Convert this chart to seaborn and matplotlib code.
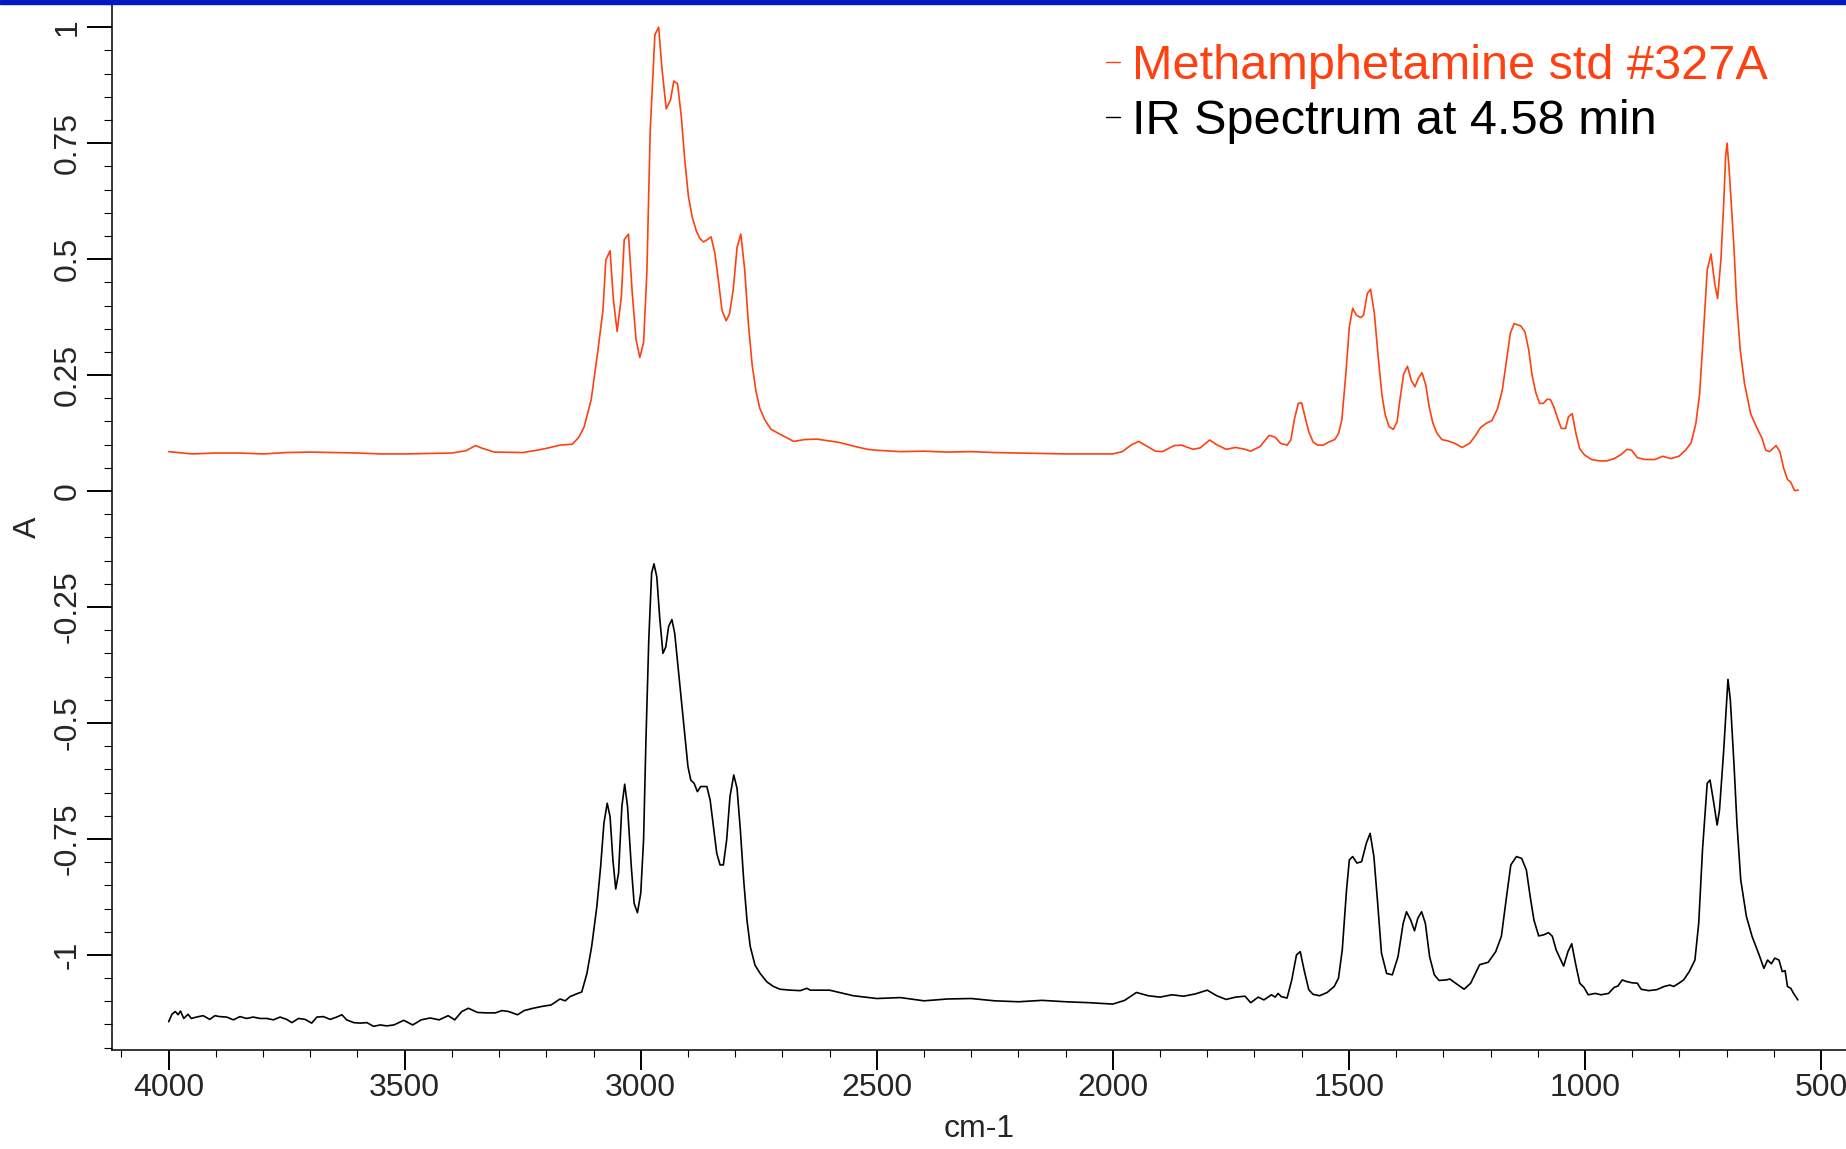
import pandas as pd
import seaborn as sns
import matplotlib.pyplot as plt
from matplotlib.ticker import FixedLocator, MultipleLocator
from matplotlib.patches import Rectangle

# wavenumber (cm-1) and absorbance
red_wn = [
    4000, 3950, 3900, 3850, 3800, 3750, 3700, 3650, 3600, 3550,
    3500, 3450, 3400, 3370, 3350, 3335, 3310, 3250, 3220, 3200,
    3171, 3145, 3131, 3120, 3105, 3091, 3080, 3074, 3065, 3058,
    3050, 3041, 3035, 3026, 3018, 3010, 3002, 2994, 2987, 2980,
    2970, 2962, 2955, 2946, 2937, 2930, 2922, 2914, 2907, 2899,
    2891, 2882, 2875, 2867, 2859, 2851, 2843, 2835, 2828, 2819,
    2812, 2804, 2796, 2788, 2780, 2772, 2764, 2756, 2748, 2737,
    2724, 2704, 2676, 2653, 2627, 2600, 2580, 2550, 2520, 2500,
    2450, 2400, 2350, 2300, 2250, 2200, 2150, 2100, 2050, 2000,
    1980, 1960, 1945, 1930, 1910, 1895, 1870, 1855, 1830, 1815,
    1795, 1780, 1760, 1740, 1720,
    1708, 1688, 1669, 1656, 1645, 1631, 1623, 1615, 1607, 1600,
    1593, 1585, 1576, 1566, 1554, 1542, 1530, 1522, 1515, 1507,
    1499, 1492, 1484, 1475, 1469, 1461, 1454, 1446, 1438, 1430,
    1423, 1415, 1406, 1398, 1392, 1384, 1376, 1368, 1360, 1353,
    1345, 1337, 1330, 1322, 1313, 1303, 1290, 1276, 1260, 1244,
    1231, 1221, 1209, 1197, 1185, 1175, 1166, 1158, 1150, 1136,
    1127, 1119, 1112, 1104, 1096, 1088, 1080, 1073, 1066, 1058,
    1050, 1041, 1035, 1027, 1019, 1011, 1001, 986, 970, 954,
    938, 923, 911, 901, 889, 873, 852, 835, 818, 801,
    787, 775, 765, 757, 749, 741, 733, 725, 719, 712,
    706, 702, 699, 695, 690, 684, 679, 671, 662, 649,
    637, 625, 617, 609, 595, 587, 579, 571, 564, 556,
    548]
red_a = [
    0.085, 0.080, 0.082, 0.082, 0.080, 0.083, 0.084, 0.083, 0.082, 0.080,
    0.080, 0.081, 0.082, 0.087, 0.098, 0.092, 0.084, 0.083, 0.088, 0.092,
    0.099, 0.101, 0.116, 0.138, 0.197, 0.301, 0.390, 0.498, 0.518, 0.413,
    0.344, 0.420, 0.542, 0.554, 0.427, 0.327, 0.288, 0.320, 0.472, 0.776,
    0.984, 1.000, 0.910, 0.824, 0.843, 0.884, 0.878, 0.806, 0.717, 0.635,
    0.591, 0.560, 0.545, 0.537, 0.542, 0.548, 0.513, 0.450, 0.390, 0.367,
    0.382, 0.435, 0.525, 0.554, 0.479, 0.361, 0.272, 0.216, 0.179, 0.153,
    0.133, 0.122, 0.107, 0.111, 0.112, 0.108, 0.105, 0.097, 0.090, 0.088,
    0.085, 0.086, 0.084, 0.085, 0.083, 0.082, 0.081, 0.080, 0.080, 0.080,
    0.085, 0.100, 0.107, 0.098, 0.086, 0.085, 0.098, 0.099, 0.090, 0.093,
    0.110, 0.100, 0.090, 0.094, 0.090,
    0.086, 0.096, 0.120, 0.116, 0.103, 0.099, 0.110, 0.157, 0.189, 0.190,
    0.160, 0.128, 0.106, 0.099, 0.099, 0.106, 0.111, 0.124, 0.153, 0.246,
    0.354, 0.394, 0.379, 0.374, 0.379, 0.426, 0.435, 0.383, 0.290, 0.207,
    0.164, 0.139, 0.133, 0.149, 0.196, 0.252, 0.269, 0.239, 0.225, 0.243,
    0.255, 0.228, 0.182, 0.146, 0.124, 0.111, 0.108, 0.103, 0.094, 0.103,
    0.121, 0.137, 0.146, 0.152, 0.178, 0.218, 0.282, 0.340, 0.361, 0.356,
    0.343, 0.304, 0.250, 0.212, 0.189, 0.189, 0.198, 0.197, 0.182, 0.157,
    0.135, 0.135, 0.160, 0.167, 0.124, 0.091, 0.078, 0.068, 0.065, 0.065,
    0.070, 0.079, 0.090, 0.088, 0.072, 0.068, 0.068, 0.075, 0.070, 0.075,
    0.088, 0.104, 0.146, 0.210, 0.340, 0.476, 0.511, 0.447, 0.415, 0.498,
    0.620, 0.720, 0.750, 0.700, 0.620, 0.519, 0.412, 0.304, 0.232, 0.167,
    0.139, 0.114, 0.088, 0.085, 0.098, 0.085, 0.049, 0.025, 0.019, 0.001,
    0.002]

black_wn = [
    4000, 3993, 3986, 3980, 3975, 3968, 3959, 3952, 3941, 3927,
    3913, 3902, 3892, 3877, 3863, 3849, 3835, 3821, 3806, 3792,
    3778, 3764, 3750, 3739, 3725, 3711, 3697, 3686, 3672, 3658,
    3644, 3633, 3623, 3608, 3594, 3580, 3566, 3552, 3538, 3523,
    3502, 3483, 3465, 3446, 3427, 3408, 3394, 3379, 3365, 3346,
    3327, 3308, 3294, 3280, 3261, 3247, 3228, 3209, 3190, 3171,
    3160, 3150, 3136, 3125, 3114, 3104, 3093, 3085, 3078, 3071,
    3065, 3059, 3053, 3047, 3040, 3034, 3028, 3020, 3014, 3007,
    3000, 2994, 2989, 2983, 2977, 2972, 2966, 2960, 2953, 2947,
    2941, 2934, 2928, 2921, 2914, 2907, 2900, 2894, 2887, 2880,
    2873, 2860, 2853, 2846, 2839, 2832, 2825, 2818, 2811, 2803,
    2796, 2789, 2782, 2775, 2768, 2758, 2747, 2733, 2719, 2705,
    2683, 2662, 2648, 2641,
    2600, 2550, 2500, 2450, 2400, 2350,
    2300, 2250, 2200, 2150, 2100, 2050, 2000, 1975, 1950, 1925,
    1900, 1875, 1850, 1825, 1800, 1780, 1760, 1740, 1720,
    1708, 1692, 1680, 1664, 1656, 1650, 1643, 1631, 1621, 1611,
    1603, 1595, 1585, 1576, 1562, 1546, 1531, 1522, 1514, 1505,
    1499, 1492, 1483, 1473, 1463, 1455, 1447, 1439, 1431, 1420,
    1408, 1396, 1385, 1378, 1369, 1361, 1354, 1346, 1338, 1329,
    1319, 1309, 1294, 1286, 1274, 1256, 1242, 1223, 1205, 1189,
    1177, 1166, 1157, 1145, 1134, 1124, 1116, 1108, 1098, 1088,
    1077, 1069, 1061, 1053, 1045, 1036, 1028, 1020, 1011, 1002,
    993, 978, 966, 950, 938, 930, 921, 913, 901, 889,
    881, 865, 848, 832, 820, 812, 801, 791, 779, 767,
    759, 751, 741, 735, 727, 720, 715, 706, 697, 692,
    684, 678, 670, 658, 646, 631, 621, 613, 605, 598,
    589, 582, 576, 571, 564, 558, 549]
black_a = [
    -1.144, -1.128, -1.122, -1.129, -1.121, -1.137, -1.128, -1.137, -1.134, -1.131,
    -1.139, -1.131, -1.133, -1.134, -1.140, -1.133, -1.137, -1.134, -1.137, -1.137,
    -1.140, -1.134, -1.139, -1.146, -1.137, -1.139, -1.147, -1.134, -1.133, -1.139,
    -1.134, -1.129, -1.140, -1.146, -1.147, -1.146, -1.154, -1.151, -1.153, -1.151,
    -1.141, -1.151, -1.140, -1.136, -1.140, -1.131, -1.140, -1.122, -1.115, -1.124,
    -1.125, -1.125, -1.120, -1.122, -1.129, -1.120, -1.115, -1.111, -1.108, -1.095,
    -1.099, -1.090, -1.084, -1.080, -1.040, -0.982, -0.896, -0.810, -0.716, -0.673,
    -0.702, -0.795, -0.858, -0.824, -0.680, -0.632, -0.680, -0.810, -0.889, -0.909,
    -0.867, -0.752, -0.537, -0.321, -0.177, -0.157, -0.185, -0.271, -0.350, -0.336,
    -0.292, -0.277, -0.307, -0.379, -0.450, -0.522, -0.594, -0.623, -0.630, -0.648,
    -0.637, -0.637, -0.666, -0.723, -0.781, -0.806, -0.806, -0.752, -0.659, -0.612,
    -0.641, -0.731, -0.838, -0.925, -0.982, -1.022, -1.040, -1.058, -1.068, -1.074,
    -1.076, -1.077, -1.072, -1.076,
    -1.076, -1.088, -1.094, -1.092, -1.099, -1.095,
    -1.094, -1.099, -1.101, -1.098, -1.101, -1.103, -1.106, -1.098, -1.081, -1.088,
    -1.091, -1.086, -1.089, -1.084, -1.076, -1.088, -1.096, -1.091, -1.089,
    -1.103, -1.091, -1.097, -1.086, -1.091, -1.083, -1.090, -1.093, -1.054, -1.000,
    -0.993, -1.032, -1.075, -1.085, -1.088, -1.081, -1.068, -1.050, -0.989, -0.860,
    -0.795, -0.788, -0.802, -0.799, -0.759, -0.738, -0.788, -0.889, -0.996, -1.040,
    -1.043, -1.004, -0.932, -0.907, -0.925, -0.948, -0.921, -0.907, -0.932, -1.004,
    -1.043, -1.055, -1.054, -1.052, -1.061, -1.074, -1.061, -1.021, -1.016, -0.993,
    -0.960, -0.874, -0.806, -0.788, -0.792, -0.817, -0.874, -0.925, -0.959, -0.957,
    -0.952, -0.960, -0.989, -1.007, -1.024, -0.993, -0.976, -1.018, -1.061, -1.070,
    -1.086, -1.083, -1.086, -1.083, -1.070, -1.067, -1.054, -1.057, -1.060, -1.061,
    -1.074, -1.077, -1.075, -1.068, -1.065, -1.068, -1.061, -1.054, -1.036, -1.011,
    -0.932, -0.774, -0.630, -0.623, -0.673, -0.720, -0.688, -0.558, -0.406, -0.450,
    -0.594, -0.716, -0.838, -0.917, -0.960, -1.000, -1.029, -1.011, -1.019, -1.007,
    -1.011, -1.036, -1.034, -1.068, -1.072, -1.083, -1.097]

series_names = ["Methamphetamine std #327A", "IR Spectrum at 4.58 min"]
series_colors = ["#FF4010", "#000000"]

x_ticks = [4000, 3500, 3000, 2500, 2000, 1500, 1000, 500]
y_ticks = [1, 0.75, 0.5, 0.25, 0, -0.25, -0.5, -0.75, -1]
y_tick_labels = ["1", "0.75", "0.5", "0.25", "0", "-0.25", "-0.5", "-0.75", "-1"]

sns.set_style("ticks")
plt.rcParams['font.family'] = ['Liberation Sans', 'DejaVu Sans']

W, H = 1846, 1149
fig = plt.figure(figsize=(W / 100, H / 100), dpi=100)
ax = fig.add_axes([112 / W, 99 / H, 1734 / W, 1046 / H])

df_red = pd.DataFrame({"wn": red_wn, "A": red_a})
df_black = pd.DataFrame({"wn": black_wn, "A": black_a})
sns.lineplot(data=df_red, x="wn", y="A", ax=ax, color=series_colors[0],
             linewidth=1.2, sort=False, estimator=None, label=series_names[0])
sns.lineplot(data=df_black, x="wn", y="A", ax=ax, color=series_colors[1],
             linewidth=1.2, sort=False, estimator=None, label=series_names[1])

ax.set_xlim(4120, 447)
ax.set_ylim(-1.205, 1.05)

ax.xaxis.set_major_locator(FixedLocator(x_ticks))
ax.xaxis.set_minor_locator(MultipleLocator(100))
ax.set_xticklabels([str(t) for t in x_ticks])
ax.yaxis.set_major_locator(FixedLocator(y_ticks))
ax.yaxis.set_minor_locator(MultipleLocator(0.05))
ax.set_yticklabels(y_tick_labels, rotation=90, va="center")

ax.tick_params(axis="x", which="major", length=14.4, width=1.4, labelsize=23, pad=2, color="black")
ax.tick_params(axis="x", which="minor", length=5, width=0.8, color="black")
ax.tick_params(axis="y", which="major", length=18, width=1.4, labelsize=23, pad=3, color="black")
ax.tick_params(axis="y", which="minor", length=5.8, width=0.8, color="black")

for side in ["top", "right"]:
    ax.spines[side].set_visible(False)
for side in ["left", "bottom"]:
    ax.spines[side].set_linewidth(1.1)
    ax.spines[side].set_color("black")

ax.set_xlabel("cm-1", fontsize=23)
ax.set_ylabel("A", fontsize=23)
ax.xaxis.set_label_coords(0.5, -0.061)
ax.yaxis.set_label_coords(-0.040, 0.5)

leg = ax.legend(loc="upper left", bbox_to_anchor=(0.573, 0.962), frameon=False,
                fontsize=35, handlelength=0.3, handletextpad=0.25,
                labelspacing=0.22, borderpad=0, borderaxespad=0)
for text, c in zip(leg.get_texts(), series_colors):
    text.set_color(c)
for line in leg.get_lines():
    line.set_linewidth(1.0)

fig.patches.append(Rectangle((0, 1 - 4 / H), 1, 4 / H, transform=fig.transFigure,
                             color="#0019C4", zorder=10))

fig.savefig("out.png", dpi=100)
